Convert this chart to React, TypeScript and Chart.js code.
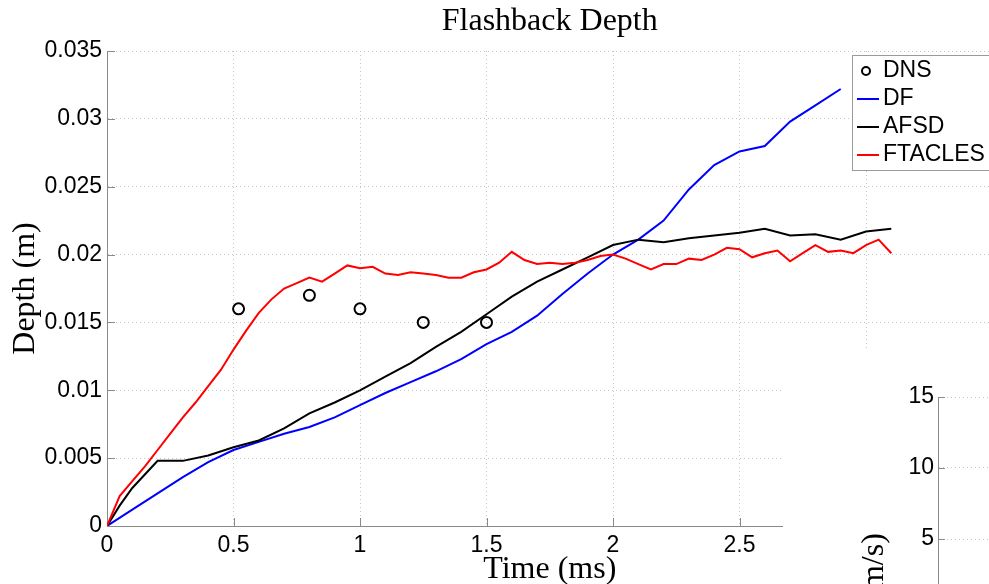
import React, { useEffect, useRef } from "react";
import { Chart, registerables } from "chart.js";

Chart.register(...registerables);

// ---------- data ----------
const dnsTime = [0.52, 0.8, 1.0, 1.25, 1.5];
const dnsDepth = [0.016, 0.017, 0.016, 0.015, 0.015];

const dfTime = [0, 0.1, 0.2, 0.3, 0.4, 0.5, 0.6, 0.7, 0.8, 0.9, 1.0, 1.1, 1.2, 1.3, 1.4, 1.5, 1.6, 1.7, 1.8, 1.9, 2.0, 2.1, 2.2, 2.3, 2.4, 2.5, 2.6, 2.7, 2.8, 2.9];
const dfDepth = [0, 0.0012, 0.0024, 0.0036, 0.0047, 0.0056, 0.0062, 0.0068, 0.0073, 0.008, 0.0089, 0.0098, 0.0106, 0.0114, 0.0123, 0.0134, 0.0143, 0.0155, 0.0171, 0.0186, 0.02, 0.0211, 0.0225, 0.0248, 0.0266, 0.0276, 0.028, 0.0298, 0.031, 0.0322];

const afsdTime = [0, 0.05, 0.1, 0.2, 0.3, 0.4, 0.5, 0.6, 0.7, 0.8, 0.9, 1.0, 1.1, 1.2, 1.3, 1.4, 1.5, 1.6, 1.7, 1.8, 1.9, 2.0, 2.1, 2.2, 2.3, 2.4, 2.5, 2.6, 2.7, 2.8, 2.9, 3.0, 3.1];
const afsdDepth = [0, 0.0015, 0.0028, 0.0048, 0.0048, 0.0052, 0.0058, 0.0063, 0.0072, 0.0083, 0.0091, 0.01, 0.011, 0.012, 0.0132, 0.0143, 0.0156, 0.0169, 0.018, 0.0189, 0.0198, 0.0207, 0.0211, 0.0209, 0.0212, 0.0214, 0.0216, 0.0219, 0.0214, 0.0215, 0.0211, 0.0217, 0.0219];

const ftTime = [0, 0.05, 0.1, 0.15, 0.2, 0.25, 0.3, 0.35, 0.4, 0.45, 0.5, 0.55, 0.6, 0.65, 0.7, 0.75, 0.8, 0.85, 0.9, 0.95, 1.0, 1.05, 1.1, 1.15, 1.2, 1.25, 1.3, 1.35, 1.4, 1.45, 1.5, 1.55, 1.6, 1.65, 1.7, 1.75, 1.8, 1.85, 1.9, 1.95, 2.0, 2.05, 2.1, 2.15, 2.2, 2.25, 2.3, 2.35, 2.4, 2.45, 2.5, 2.55, 2.6, 2.65, 2.7, 2.75, 2.8, 2.85, 2.9, 2.95, 3.0, 3.05, 3.1];
const ftDepth = [0, 0.0022, 0.0033, 0.0044, 0.0056, 0.0068, 0.008, 0.0091, 0.0103, 0.0115, 0.013, 0.0144, 0.0157, 0.0167, 0.0175, 0.0179, 0.0183, 0.018, 0.0186, 0.0192, 0.019, 0.0191, 0.0186, 0.0185, 0.0187, 0.0186, 0.0185, 0.0183, 0.0183, 0.0187, 0.0189, 0.0194, 0.0202, 0.0196, 0.0193, 0.0194, 0.0193, 0.0194, 0.0196, 0.0199, 0.02, 0.0197, 0.0193, 0.0189, 0.0193, 0.0193, 0.0197, 0.0196, 0.02, 0.0205, 0.0204, 0.0198, 0.0201, 0.0203, 0.0195, 0.0201, 0.0207, 0.0202, 0.0203, 0.0201, 0.0207, 0.0211, 0.0201];

const seriesNames = ["DNS", "DF", "AFSD", "FTACLES"];
const xTickStep = 0.5;
const yTickStep = 0.005;
const subTickStep = 5;

// ---------- styles ----------
const SANS = "'Liberation Sans', Arial, sans-serif";
const SERIF = "'Liberation Serif', 'Times New Roman', serif";
const GRID = "#c4c4c4";
const AXIS = "#8a8a8a";

const pts = (xs: number[], ys: number[]) => xs.map((x, i) => ({ x, y: ys[i] }));
const fmt = (v: any) => String(Number(Number(v).toFixed(4)));

const innerTicks = {
  id: "innerTicks",
  beforeDatasetsDraw(chart: any, _args: any, o: any) {
    const { ctx, chartArea } = chart;
    ctx.save();
    ctx.strokeStyle = o.color;
    ctx.lineWidth = 1;
    ctx.beginPath();
    (o.axes || []).forEach((id: string) => {
      const s = chart.scales[id];
      if (!s) return;
      s.ticks.forEach((t: any) => {
        const p = s.getPixelForValue(t.value);
        if (s.isHorizontal()) {
          const px = Math.round(p) + 0.5;
          ctx.moveTo(px, chartArea.bottom);
          ctx.lineTo(px, chartArea.bottom - o.length);
        } else {
          const py = Math.round(p) + 0.5;
          ctx.moveTo(chartArea.left, py);
          ctx.lineTo(chartArea.left + o.length, py);
        }
      });
    });
    ctx.stroke();
    ctx.restore();
  },
};

const boxLegend = {
  id: "boxLegend",
  afterDraw(chart: any, _args: any, o: any) {
    if (!o || !o.display) return;
    const ctx = chart.ctx;
    ctx.save();
    ctx.fillStyle = "#fff";
    ctx.fillRect(o.left, o.top, o.width, o.height);
    ctx.strokeStyle = o.borderColor;
    ctx.lineWidth = 1;
    ctx.strokeRect(o.left + 0.5, o.top + 0.5, o.width, o.height);
    ctx.font = `${o.fontSize}px ${SANS}`;
    ctx.textBaseline = "middle";
    ctx.textAlign = "left";
    chart.data.datasets.forEach((ds: any, i: number) => {
      const y = o.top + o.firstRow + i * o.rowGap;
      const x0 = o.left + o.sampleStart;
      const x1 = x0 + o.sampleLen;
      ctx.strokeStyle = ds.borderColor;
      ctx.lineWidth = 2;
      ctx.beginPath();
      if (ds.showLine === false) {
        ctx.arc(o.left + o.markerX, y, o.markerRadius, 0, Math.PI * 2);
      } else {
        ctx.moveTo(x0, y);
        ctx.lineTo(x1, y);
      }
      ctx.stroke();
      ctx.fillStyle = "#000";
      ctx.fillText(ds.label, o.left + o.textStart, y);
    });
    ctx.restore();
  },
};

export default function App() {
  const mainRef = useRef<HTMLCanvasElement>(null);
  const subRef = useRef<HTMLCanvasElement>(null);

  useEffect(() => {
    const tickFont = { family: SANS, size: 23 };
    const titleFont = { family: SERIF, size: 32, weight: "normal" as const };

    const main = new Chart(mainRef.current!, {
      type: "line",
      data: {
        datasets: [
          {
            label: seriesNames[0],
            data: pts(dnsTime, dnsDepth),
            showLine: false,
            borderColor: "#000",
            backgroundColor: "rgba(0,0,0,0)",
            pointRadius: 5.5,
            pointBorderWidth: 2,
            pointBackgroundColor: "rgba(0,0,0,0)",
            pointBorderColor: "#000",
            order: 3,
          },
          {
            label: seriesNames[1],
            data: pts(dfTime, dfDepth),
            borderColor: "#0000ff",
            borderWidth: 2,
            pointRadius: 0,
            tension: 0,
            order: 2,
          },
          {
            label: seriesNames[2],
            data: pts(afsdTime, afsdDepth),
            borderColor: "#000000",
            borderWidth: 2,
            pointRadius: 0,
            tension: 0,
            order: 1,
          },
          {
            label: seriesNames[3],
            data: pts(ftTime, ftDepth),
            borderColor: "#ff0000",
            borderWidth: 2,
            pointRadius: 0,
            tension: 0,
            order: 0,
          },
        ] as any,
      },
      options: {
        animation: false,
        responsive: false,
        layout: { padding: { left: 0, right: 7, top: 0, bottom: 0 } },
        plugins: {
          legend: { display: false },
          tooltip: { enabled: false },
          title: {
            display: true,
            text: "Flashback Depth",
            fullSize: false,
            color: "#000",
            font: titleFont,
            padding: { top: 2.8, bottom: 9.8 },
          },
          innerTicks: { axes: ["x", "y"], length: 8, color: AXIS },
          boxLegend: {
            display: true,
            left: 852,
            top: 55,
            width: 160,
            height: 115,
            borderColor: "#9a9a9a",
            fontSize: 23,
            firstRow: 16,
            rowGap: 28,
            sampleStart: 5,
            sampleLen: 22,
            markerX: 14,
            markerRadius: 4,
            textStart: 31,
          },
        } as any,
        scales: {
          x: {
            type: "linear",
            min: 0,
            max: 3.5,
            afterFit: (s: any) => {
              s.height = 74;
              s.paddingLeft = 0;
              s.paddingRight = 0;
            },
            ticks: {
              stepSize: xTickStep,
              padding: 6,
              color: "#000",
              font: tickFont,
              maxRotation: 0,
              autoSkip: false,
              callback: fmt,
            },
            grid: { color: GRID, lineWidth: 1, drawTicks: false },
            border: { display: true, color: AXIS, width: 1, dash: [1, 3] },
            title: {
              display: true,
              text: "Time (ms)",
              color: "#000",
              font: titleFont,
              padding: { top: 0, bottom: 11 },
            },
          },
          y: {
            type: "linear",
            min: 0,
            max: 0.035,
            afterFit: (s: any) => {
              s.width = 107;
              s.paddingTop = 0;
              s.paddingBottom = 0;
            },
            ticks: {
              stepSize: yTickStep,
              padding: 5,
              color: "#000",
              font: tickFont,
              autoSkip: false,
              callback: fmt,
            },
            grid: { color: GRID, lineWidth: 1, drawTicks: false },
            border: { display: true, color: AXIS, width: 1, dash: [1, 3] },
            title: {
              display: true,
              text: "Depth (m)",
              color: "#000",
              font: titleFont,
              padding: { top: 6.8, bottom: 0 },
            },
          },
        },
      } as any,
      plugins: [innerTicks, boxLegend],
    });

    const sub = new Chart(subRef.current!, {
      type: "line",
      data: { datasets: [] },
      options: {
        animation: false,
        responsive: false,
        layout: { padding: { left: 0, right: 0, top: 47, bottom: 47 } },
        plugins: {
          legend: { display: false },
          tooltip: { enabled: false },
          title: { display: false },
          innerTicks: { axes: ["y"], length: 7, color: AXIS },
        } as any,
        scales: {
          x: { type: "linear", display: false, min: 0, max: 3.5 },
          y: {
            type: "linear",
            min: -15,
            max: 15,
            afterFit: (s: any) => {
              s.width = 155;
              s.paddingTop = 0;
              s.paddingBottom = 0;
            },
            ticks: {
              stepSize: subTickStep,
              padding: 4,
              color: "#000",
              font: tickFont,
              callback: fmt,
            },
            grid: { color: GRID, lineWidth: 1, drawTicks: false },
            border: { display: true, color: AXIS, width: 1, dash: [1, 3] },
            title: {
              display: true,
              text: "Speed (m/s)",
              color: "#000",
              font: titleFont,
              padding: { top: 72.8, bottom: 0 },
            },
          },
        },
      } as any,
      plugins: [innerTicks],
    });

    return () => {
      main.destroy();
      sub.destroy();
    };
  }, []);

  return (
    <div
      style={{
        position: "absolute",
        left: 0,
        top: 0,
        width: 989,
        height: 584,
        overflow: "hidden",
        background: "#fff",
      }}
    >
      <canvas
        ref={mainRef}
        width={1000}
        height={600}
        style={{ position: "absolute", left: 0, top: 0, width: 1000, height: 600 }}
      />
      <canvas
        ref={subRef}
        width={230}
        height={520}
        style={{
          position: "absolute",
          left: 783,
          top: 350,
          width: 230,
          height: 520,
          background: "#fff",
        }}
      />
    </div>
  );
}
